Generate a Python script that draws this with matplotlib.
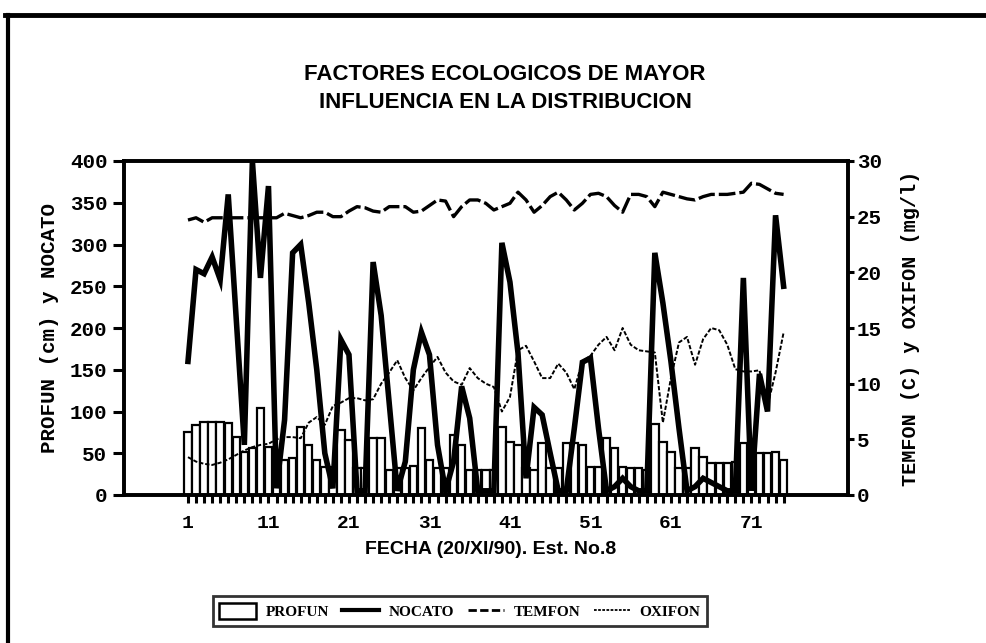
import numpy as np
from matplotlib import pyplot as plt
from matplotlib.lines import Line2D
from matplotlib.patches import Patch

# dias de muestreo (Est. No.8)
dias = np.arange(1, 76)

# profundidad (cm), barras
profun = [76, 84, 87, 88, 88, 86, 70, 52, 56, 104,
          58, 45, 42, 44, 82, 60, 42, 34, 34, 78,
          66, 32, 32, 68, 68, 30, 32, 32, 35, 80,
          42, 32, 32, 72, 60, 30, 30, 30, 30, 82,
          64, 60, 32, 30, 62, 32, 32, 62, 62, 60,
          34, 34, 68, 56, 34, 32, 32, 30, 85, 64,
          52, 32, 32, 56, 46, 38, 38, 38, 40, 62,
          52, 50, 50, 52, 42]

# NOCATO, eje izquierdo
nocato = [160, 270, 265, 285, 258, 360, 210, 60, 400, 260,
          370, 8, 90, 290, 300, 230, 150, 50, 8, 186,
          168, 5, 5, 279, 215, 110, 5, 40, 150, 195,
          168, 60, 5, 40, 130, 92, 5, 5, 5, 302,
          255, 170, 20, 105, 96, 50, 5, 5, 80, 159,
          164, 80, 5, 10, 20, 10, 5, 5, 290, 230,
          160, 80, 5, 10, 20, 15, 10, 5, 5, 260,
          5, 145, 100, 335, 250]

# temperatura de fondo (C), eje derecho
temfon = [24.7, 24.9, 24.5, 24.9, 24.9, 24.9, 24.9, 24.9, 24.9, 24.9,
          24.9, 24.9, 25.3, 25.1, 24.9, 25.1, 25.4, 25.4, 25.0, 25.0,
          25.5, 25.9, 25.8, 25.5, 25.4, 25.9, 25.9, 25.9, 25.4, 25.5,
          26.0, 26.5, 26.4, 25.0, 25.9, 26.5, 26.5, 26.2, 25.6, 25.9,
          26.2, 27.2, 26.5, 25.4, 26.0, 26.8, 27.2, 26.5, 25.6, 26.2,
          27.0, 27.1, 26.8, 26.0, 25.4, 27.0, 27.0, 26.8, 25.9, 27.2,
          27.0, 26.8, 26.6, 26.5, 26.8, 27.0, 27.0, 27.0, 27.1, 27.2,
          28.0, 27.9, 27.5, 27.1, 27.0]

# oxigeno de fondo (mg/l), eje derecho
oxifon = [3.4, 3.0, 2.8, 2.7, 2.9, 3.2, 3.6, 4.0, 4.3, 4.5,
          4.6, 5.0, 5.2, 5.2, 5.1, 6.5, 7.0, 6.3, 8.0, 8.3,
          8.7, 8.7, 8.5, 8.6, 10.0, 11.0, 12.1, 10.5, 9.4, 10.5,
          11.5, 12.4, 11.0, 10.2, 9.9, 11.4, 10.5, 10.0, 9.7, 7.5,
          8.8, 13.0, 13.4, 12.0, 10.5, 10.5, 11.8, 11.0, 9.5, 12.0,
          12.5, 13.5, 14.2, 13.0, 15.0, 13.5, 13.0, 12.9, 12.8, 6.5,
          10.5, 13.7, 14.2, 11.7, 14.0, 15.0, 14.8, 13.5, 11.3, 11.1,
          11.1, 11.2, 8.0, 11.0, 14.6]

W, H = 986, 643
MONO = 'Liberation Mono'

fig = plt.figure(figsize=(W / 100, H / 100), dpi=100)
ax = fig.add_axes([124 / W, 1 - 495 / H, (848 - 124) / W, (495 - 161) / H])
ax2 = ax.twinx()

ax.bar(dias, profun, width=0.92, facecolor='white', edgecolor='black', linewidth=1.6, zorder=2)
ax.plot(dias, nocato, color='black', linewidth=4, solid_joinstyle='miter', zorder=3)
ax2.plot(dias, temfon, color='black', linewidth=2.4, dashes=(5, 1.2))
ax2.plot(dias, oxifon, color='black', linewidth=1.4, dashes=(2.2, 1))

ax.set_xlim(-6.95, 83)
ax.set_ylim(0, 400)
ax2.set_ylim(0, 30)
ax.set_yticks(np.arange(0, 401, 50))
ax2.set_yticks(np.arange(0, 31, 5))
ax.set_xticks(np.arange(1, 72, 10))
ax.set_xticks(dias, minor=True)

for a in (ax, ax2):
    for s in a.spines.values():
        s.set_linewidth(2.6)

ax.tick_params(axis='y', direction='out', length=8, width=2.2, pad=4, labelsize=15)
ax2.tick_params(axis='y', direction='out', length=4.5, width=2.2, pad=2, labelsize=15)
ax.tick_params(axis='x', which='both', direction='out', length=5.5, width=2.2, pad=9, labelsize=14)
for lab in ax.get_yticklabels() + ax2.get_yticklabels() + ax.get_xticklabels():
    lab.set_fontfamily(MONO)
    lab.set_fontweight('bold')

fig.text(505 / W, 1 - 75 / H, 'FACTORES ECOLOGICOS DE MAYOR', ha='center', va='center',
         fontsize=16, fontweight='bold', family='Liberation Sans')
fig.text(505 / W, 1 - 103 / H, 'INFLUENCIA EN LA DISTRIBUCION', ha='center', va='center',
         fontsize=16, fontweight='bold', family='Liberation Sans')
fig.text(491 / W, 1 - 550 / H, 'FECHA (20/XI/90). Est. No.8', ha='center', va='center',
         fontsize=14, fontweight='bold', family='Liberation Sans')
fig.text(50 / W, 1 - 328 / H, 'PROFUN (cm) y NOCATO', rotation=90, ha='center', va='center',
         fontsize=15, fontweight='bold', family=MONO)
fig.text(910 / W, 1 - 328 / H, 'TEMFON (C) y OXIFON (mg/l)', rotation=90, ha='center', va='center',
         fontsize=14.5, fontweight='bold', family=MONO)

handles = [Patch(facecolor='white', edgecolor='black', linewidth=1.8),
           Line2D([], [], color='black', linewidth=3),
           Line2D([], [], color='black', linewidth=2, dashes=(3, 1.2)),
           Line2D([], [], color='black', linewidth=1.3, dashes=(1.5, 0.8))]
leg = fig.legend(handles, ['PROFUN', 'NOCATO', 'TEMFON', 'OXIFON'], ncol=4,
                 loc='center', bbox_to_anchor=(460 / W, 1 - 611 / H), fancybox=False,
                 edgecolor='black', handlelength=2.4, handleheight=1.2, handletextpad=0.6,
                 columnspacing=0.9, borderpad=0.45,
                 prop={'family': 'Liberation Serif', 'weight': 'bold', 'size': 11})
leg.get_frame().set_linewidth(2)

# marco de la figura (escaneo)
fig.add_artist(Line2D([5 / W, 1], [1 - 15 / H, 1 - 15 / H], color='black', linewidth=3.5))
fig.add_artist(Line2D([8 / W, 8 / W], [1 - 15 / H, 0], color='black', linewidth=3))

fig.savefig('out.png', dpi=100)
